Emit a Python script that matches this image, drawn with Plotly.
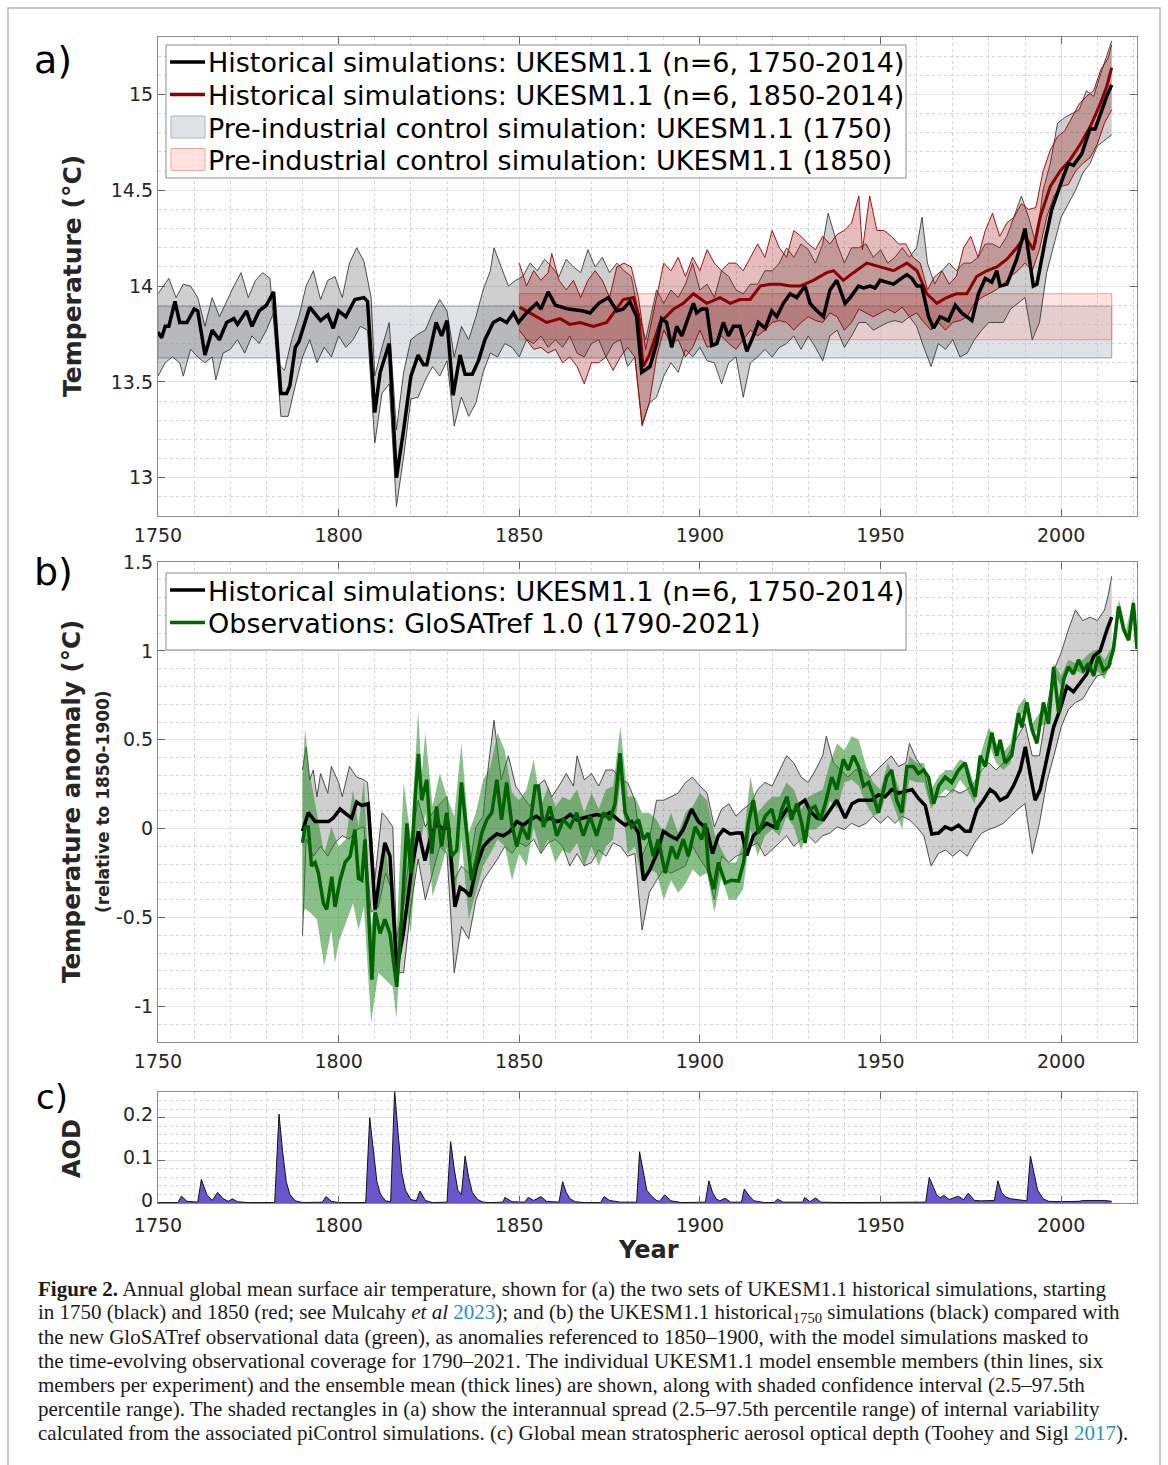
import plotly.graph_objects as go

# ---------------- DATA ----------------
# Panel a: historical (1750 start) ensemble mean, °C
a_black_mean = [(1750,13.76),(1751,13.73),(1752,13.79),(1753,13.79),(1754.7,13.92),(1756,13.81),(1758,13.81),(1760,13.88),(1761,13.87),(1763,13.64),(1765,13.77),(1767,13.72),(1769,13.81),(1771,13.83),(1772,13.80),(1774.5,13.87),(1776,13.79),(1778,13.87),(1780,13.90),(1782,13.97),(1784,13.44),(1785.6,13.44),(1786.5,13.48),(1788,13.68),(1789,13.71),(1792,13.89),(1795,13.82),(1797,13.85),(1798.5,13.78),(1800,13.87),(1802,13.84),(1804.5,13.93),(1807,13.94),(1808,13.92),(1810,13.34),(1811.5,13.55),(1814,13.70),(1816,13.0),(1818,13.25),(1820,13.53),(1822,13.64),(1823.5,13.59),(1824.4,13.59),(1827,13.81),(1828.5,13.74),(1830,13.82),(1831.7,13.43),(1833.6,13.64),(1835,13.54),(1837,13.54),(1838.7,13.61),(1840.5,13.72),(1842.8,13.81),(1844.7,13.83),(1846.5,13.81),(1848.4,13.86),(1849.8,13.81),(1852,13.86),(1854.8,13.91),(1856,13.88),(1858,13.97),(1860,13.90),(1863.6,13.88),(1867.7,13.87),(1869.6,13.86),(1872,13.91),(1874.7,13.94),(1877,13.87),(1878.8,13.88),(1880.6,13.92),(1882.5,13.84),(1883.9,13.55),(1886.2,13.58),(1888,13.70),(1889.4,13.83),(1890.8,13.81),(1892.2,13.68),(1893.6,13.79),(1895,13.74),(1896.4,13.82),(1898.2,13.91),(1899.1,13.86),(1900.5,13.88),(1901.9,13.88),(1903.3,13.69),(1904.7,13.70),(1906.5,13.81),(1907.9,13.74),(1909.3,13.79),(1911.1,13.79),(1913,13.66),(1914.8,13.74),(1916.2,13.81),(1918.1,13.78),(1919.9,13.87),(1921.3,13.84),(1923.1,13.91),(1925,13.96),(1926.8,13.94),(1929.1,14.0),(1930.5,13.91),(1931.9,13.88),(1934.2,13.84),(1936,13.98),(1937.9,14.03),(1940.2,13.91),(1941.6,13.94),(1943.9,14.0),(1945.3,13.99),(1947.1,14.0),(1948.5,13.99),(1949.9,14.03),(1951.7,14.02),(1953.6,14.01),(1955,14.03),(1957.3,14.06),(1958.7,14.04),(1960.1,14.0),(1961.4,14.0),(1963.3,13.84),(1964.7,13.78),(1966.5,13.84),(1968.8,13.82),(1970.7,13.90),(1972.5,13.86),(1975.3,13.82),(1977.1,13.96),(1979,14.04),(1980.8,14.02),(1982.2,14.08),(1983.1,14.0),(1985,14.01),(1987.7,14.14),(1990,14.30),(1992.3,14.0),(1993.3,14.01),(1995.6,14.24),(1997.4,14.40),(2000.2,14.55),(2002,14.64),(2003.4,14.63),(2005.7,14.69),(2008,14.82),(2009.4,14.82),(2011.3,14.92),(2012.6,14.99),(2014,15.05)]

a_black_hi = [(1750,13.96),(1753,14.04),(1755,13.94),(1757,14.01),(1759,14.0),(1761,13.94),(1763,13.79),(1765,13.94),(1767,13.84),(1769,13.92),(1771,14.0),(1773,14.07),(1775,13.94),(1777,14.03),(1779,14.07),(1781,14.04),(1783,13.6),(1785,13.56),(1787,13.72),(1789,13.84),(1791,14.0),(1793,14.08),(1795,13.93),(1797,14.03),(1799,14.05),(1801,13.94),(1803,14.12),(1805,14.2),(1807,14.13),(1809,13.94),(1810,13.53),(1812,13.68),(1814,13.81),(1816,13.25),(1818,13.55),(1820,13.72),(1822,13.75),(1824,13.77),(1826,13.86),(1828,13.93),(1830,13.87),(1832,13.63),(1834,13.79),(1836,13.72),(1838,13.84),(1840,13.98),(1842,14.08),(1843,14.20),(1845,14.1),(1847,14.0),(1849,14.03),(1851,14.05),(1853,14.12),(1855,14.08),(1857,14.14),(1859,14.1),(1861,14.05),(1863,14.14),(1865,14.1),(1867,14.07),(1869,14.19),(1871,14.1),(1873,14.15),(1875,14.07),(1877,14.12),(1879,14.08),(1881,14.05),(1883,13.86),(1885,13.72),(1888,13.98),(1890,13.91),(1892,13.98),(1894,13.94),(1896,14.01),(1898,14.12),(1900,13.98),(1902,14.01),(1904,13.94),(1906,14.08),(1908,14.05),(1910,13.98),(1912,13.96),(1914,14.01),(1916,14.01),(1918,14.08),(1920,14.08),(1922,14.12),(1924,14.2),(1926,14.15),(1928,14.22),(1930,14.19),(1932,14.12),(1934,14.22),(1935.5,14.38),(1938,14.22),(1940,14.12),(1942,14.2),(1944,14.2),(1946,14.22),(1948,14.15),(1950,14.19),(1952,14.12),(1954,14.15),(1956,14.2),(1958,14.15),(1960,14.2),(1961.5,14.36),(1963,14.12),(1965,14.01),(1967,14.08),(1969,14.12),(1971,14.08),(1973,14.12),(1975,14.12),(1977,14.15),(1979,14.22),(1981,14.22),(1983,14.2),(1985,14.26),(1987,14.36),(1989,14.47),(1991,14.36),(1993,14.22),(1995,14.5),(1997,14.64),(1999,14.85),(2001,14.88),(2003,14.9),(2005,14.92),(2007,15.02),(2009,14.99),(2011,15.11),(2013,15.23),(2014,15.28)]

a_black_lo = [(1750,13.53),(1752,13.6),(1754,13.63),(1756,13.6),(1757,13.53),(1759,13.67),(1761,13.63),(1763,13.6),(1765,13.63),(1766,13.51),(1768,13.65),(1770,13.67),(1772,13.72),(1774,13.65),(1776,13.74),(1778,13.7),(1780,13.77),(1782,13.86),(1784,13.32),(1786,13.32),(1788,13.48),(1790,13.63),(1792,13.72),(1794,13.6),(1796,13.68),(1798,13.63),(1800,13.74),(1802,13.68),(1804,13.72),(1806,13.79),(1808,13.77),(1810,13.18),(1812,13.44),(1814,13.49),(1816,12.85),(1818,13.11),(1820,13.41),(1822,13.42),(1824,13.51),(1826,13.58),(1828,13.53),(1830,13.61),(1832,13.27),(1834,13.42),(1836,13.32),(1838,13.39),(1840,13.55),(1842,13.65),(1844,13.63),(1846,13.70),(1848,13.68),(1850,13.63),(1852,13.72),(1854,13.70),(1856,13.74),(1858,13.68),(1860,13.72),(1862,13.68),(1864,13.74),(1866,13.65),(1868,13.63),(1870,13.70),(1872,13.72),(1874,13.63),(1876,13.70),(1878,13.72),(1880,13.58),(1882,13.63),(1884,13.28),(1886,13.39),(1888,13.42),(1890,13.53),(1892,13.6),(1894,13.55),(1896,13.67),(1898,13.63),(1900,13.68),(1902,13.61),(1904,13.6),(1906,13.49),(1908,13.6),(1910,13.63),(1912,13.42),(1914,13.6),(1916,13.63),(1918,13.67),(1920,13.63),(1922,13.68),(1924,13.70),(1926,13.74),(1928,13.67),(1930,13.74),(1932,13.68),(1934,13.61),(1936,13.74),(1938,13.77),(1940,13.68),(1942,13.74),(1944,13.81),(1946,13.81),(1948,13.77),(1950,13.79),(1952,13.81),(1954,13.82),(1956,13.81),(1958,13.84),(1960,13.79),(1962,13.68),(1964,13.58),(1966,13.70),(1968,13.67),(1970,13.72),(1972,13.63),(1974,13.65),(1976,13.72),(1978,13.77),(1980,13.81),(1982,13.81),(1984,13.81),(1986,13.88),(1988,13.91),(1990,13.94),(1992,13.72),(1994,13.81),(1996,14.07),(1998,14.22),(2000,14.36),(2002,14.43),(2004,14.5),(2006,14.59),(2008,14.64),(2010,14.73),(2012,14.76),(2014,14.79)]

# Panel a: historical (1850 start) ensemble mean and member spread, °C
a_red_mean = [(1850.1,13.89),(1853.9,13.85),(1857.6,13.81),(1861.3,13.83),(1864,13.80),(1866.8,13.81),(1870.5,13.79),(1874.2,13.81),(1876.5,13.87),(1878.8,13.93),(1881.6,13.94),(1883,13.85),(1884.3,13.58),(1886,13.64),(1889,13.81),(1892.7,13.88),(1895.4,13.91),(1898.2,13.96),(1901.9,13.91),(1905.6,13.94),(1908.4,13.91),(1911.1,13.93),(1913.9,13.93),(1916.7,14.0),(1919.4,14.01),(1922.2,14.01),(1925,14.0),(1927.7,14.0),(1931.4,14.03),(1935.1,14.07),(1937,14.08),(1939.7,14.03),(1942.5,14.07),(1946.2,14.12),(1949.9,14.10),(1953.6,14.08),(1957.3,14.12),(1960.1,14.08),(1962.8,13.96),(1965.6,13.91),(1968.3,13.94),(1971,13.96),(1973.9,13.96),(1976.6,14.05),(1979.4,14.08),(1982.2,14.10),(1985,14.14),(1987.7,14.20),(1990,14.26),(1992.3,14.19),(1994.2,14.36),(1997,14.52),(1999.7,14.60),(2002.5,14.66),(2005.3,14.74),(2008,14.83),(2010.8,14.95),(2012.6,15.04),(2014,15.14)]

a_red_hi = [(1850,14.12),(1852,14.0),(1854,14.08),(1856,14.03),(1858,14.07),(1859,14.17),(1861,14.03),(1863,13.98),(1865,14.03),(1867,13.94),(1869,14.03),(1871,14.08),(1873,14.03),(1875,13.94),(1877,14.1),(1879,14.12),(1881,14.1),(1883,13.94),(1885,13.67),(1888,13.94),(1890,14.12),(1892,14.08),(1894,14.15),(1896,14.05),(1898,14.15),(1900,14.08),(1902,14.19),(1904,14.12),(1906,14.08),(1908,14.12),(1910,14.12),(1912,14.08),(1914,14.15),(1916,14.22),(1918,14.15),(1920,14.29),(1922,14.2),(1924,14.15),(1926,14.29),(1928,14.26),(1930,14.22),(1932,14.19),(1934,14.26),(1936,14.22),(1938,14.27),(1940,14.29),(1942,14.33),(1944,14.47),(1945,14.19),(1947,14.47),(1949,14.29),(1951,14.29),(1953,14.26),(1955,14.22),(1957,14.22),(1959,14.15),(1961,14.12),(1963,13.98),(1965,14.05),(1967,14.08),(1969,14.01),(1971,14.05),(1973,14.2),(1975,14.26),(1977,14.15),(1979,14.29),(1981,14.38),(1983,14.26),(1985,14.33),(1987,14.36),(1989,14.43),(1991,14.4),(1993,14.41),(1995,14.6),(1997,14.71),(1999,14.78),(2001,14.81),(2003,14.88),(2005,14.95),(2007,14.99),(2009,15.02),(2011,15.13),(2013,15.19),(2014,15.26)]

a_red_lo = [(1850,13.77),(1852,13.72),(1854,13.67),(1856,13.68),(1858,13.65),(1860,13.67),(1862,13.6),(1864,13.63),(1866,13.58),(1868,13.49),(1870,13.6),(1872,13.6),(1874,13.63),(1876,13.56),(1878,13.63),(1880,13.68),(1882,13.63),(1884,13.27),(1886,13.39),(1888,13.63),(1890,13.77),(1892,13.70),(1894,13.72),(1896,13.63),(1898,13.68),(1900,13.77),(1902,13.68),(1904,13.70),(1906,13.74),(1908,13.70),(1910,13.67),(1912,13.72),(1914,13.77),(1916,13.74),(1918,13.77),(1920,13.81),(1922,13.82),(1924,13.81),(1926,13.77),(1928,13.81),(1930,13.84),(1932,13.82),(1934,13.81),(1936,13.86),(1938,13.84),(1940,13.77),(1942,13.81),(1944,13.88),(1946,13.86),(1948,13.84),(1950,13.86),(1952,13.88),(1954,13.86),(1956,13.89),(1958,13.84),(1960,13.86),(1962,13.81),(1964,13.77),(1966,13.81),(1968,13.77),(1970,13.81),(1972,13.82),(1974,13.84),(1976,13.91),(1978,13.94),(1980,13.96),(1982,13.98),(1984,14.01),(1986,14.05),(1988,14.08),(1990,14.12),(1992,14.08),(1994,14.19),(1996,14.36),(1998,14.47),(2000,14.52),(2002,14.53),(2004,14.6),(2006,14.64),(2008,14.67),(2010,14.74),(2012,14.85),(2014,14.92)]

# piControl 2.5-97.5th percentile ranges (start year, end year, low, high)
pi_1750 = (1750, 2014, 13.625, 13.895)
pi_1850 = (1850, 2014, 13.72, 13.96)

# Panel b: anomalies relative to 1850-1900, °C
b_black_mean = [(1790,-0.015),(1791.6,0.09),(1793.5,0.04),(1795.3,0.04),(1797.2,0.04),(1798.5,0.06),(1800.4,0.11),(1802.2,0.08),(1803.6,0.06),(1805,0.15),(1806.4,0.13),(1808.2,0.14),(1810.1,-0.455),(1811.5,-0.25),(1812.8,-0.08),(1814.2,-0.155),(1816.1,-0.79),(1817.9,-0.59),(1820.2,-0.23),(1822.1,-0.015),(1823.9,-0.18),(1825.3,-0.06),(1827.1,0.03),(1829,-0.005),(1830.4,0.01),(1832.2,-0.44),(1833.6,-0.33),(1835,-0.35),(1836.4,-0.38),(1838.2,-0.21),(1840.1,-0.10),(1841.9,-0.06),(1843.8,-0.03),(1845.6,-0.04),(1847.5,-0.015),(1849.3,0.04),(1851.1,0.02),(1853,0.05),(1854.8,0.07),(1856.7,0.04),(1858.5,0.06),(1860.4,0.04),(1862.2,0.05),(1864.1,0.08),(1865.9,0.05),(1867.7,0.06),(1869.6,0.07),(1871.4,0.08),(1873.3,0.07),(1875.1,0.09),(1877.4,0.05),(1879.3,0.02),(1881.1,0.04),(1883,-0.025),(1884.4,-0.29),(1886.2,-0.23),(1888.1,-0.14),(1889.9,-0.015),(1891.7,-0.04),(1893.6,-0.06),(1895.4,-0.005),(1897.7,0.11),(1899.6,0.04),(1901.9,0.0),(1903.5,-0.14),(1905.1,-0.04),(1906.5,-0.005),(1908.4,-0.03),(1910.2,-0.025),(1911.6,-0.025),(1913,-0.15),(1914.8,-0.04),(1916.7,-0.005),(1918.5,0.03),(1920.4,0.01),(1922.2,0.05),(1924.1,0.11),(1925.9,0.09),(1927.7,0.14),(1929.1,0.16),(1930.5,0.10),(1932.4,0.06),(1934.2,0.05),(1936.1,0.11),(1937.9,0.16),(1940.2,0.06),(1942.1,0.14),(1943.9,0.16),(1945.7,0.16),(1947.6,0.16),(1949.4,0.19),(1951.3,0.18),(1953.1,0.22),(1955,0.20),(1956.8,0.21),(1958.7,0.22),(1960.5,0.17),(1962.4,0.13),(1964.2,-0.03),(1966.1,-0.025),(1967.9,0.01),(1969.7,-0.005),(1971.6,0.02),(1973.4,-0.015),(1974.8,-0.015),(1976.7,0.11),(1978.5,0.16),(1980.3,0.22),(1981.7,0.20),(1983.1,0.16),(1985,0.18),(1986.8,0.24),(1988.7,0.33),(1990.1,0.46),(1991.4,0.31),(1992.8,0.16),(1994.2,0.22),(1996.1,0.41),(1997.9,0.57),(1999.7,0.67),(2001.6,0.80),(2003.4,0.77),(2005.3,0.82),(2007.1,0.87),(2009,0.97),(2010.8,1.0),(2012.7,1.12),(2014,1.19)]

b_black_hi = [(1790,0.33),(1791,0.46),(1792,0.275),(1793,0.33),(1794,0.18),(1795,0.31),(1797,0.20),(1798,0.35),(1800,0.26),(1801,0.18),(1803,0.35),(1805,0.29),(1807,0.275),(1808,0.26),(1810,-0.29),(1812,0.09),(1813,0.07),(1815,0.01),(1816,-0.62),(1818,-0.44),(1820,-0.06),(1822,0.16),(1824,0.01),(1826,0.09),(1828,0.14),(1830,0.18),(1832,-0.29),(1834,-0.21),(1836,-0.25),(1838,0.01),(1840,0.07),(1841,0.275),(1843,0.61),(1845,0.275),(1847,0.41),(1849,0.24),(1851,0.18),(1853,0.125),(1855,0.24),(1857,0.275),(1859,0.18),(1861,0.24),(1863,0.31),(1865,0.24),(1866,0.41),(1868,0.275),(1870,0.31),(1872,0.24),(1874,0.33),(1876,0.33),(1878,0.275),(1880,0.26),(1882,0.16),(1884,-0.155),(1886,-0.06),(1888,0.16),(1890,0.16),(1892,0.18),(1894,0.20),(1896,0.26),(1898,0.29),(1900,0.24),(1902,0.20),(1904,0.01),(1906,0.11),(1908,0.14),(1910,0.07),(1912,0.11),(1914,0.14),(1916,0.22),(1918,0.26),(1920,0.24),(1922,0.33),(1924,0.41),(1926,0.37),(1928,0.29),(1930,0.26),(1932,0.33),(1934,0.41),(1935,0.52),(1937,0.37),(1939,0.33),(1941,0.29),(1943,0.33),(1945,0.33),(1947,0.29),(1949,0.33),(1951,0.37),(1953,0.41),(1955,0.35),(1957,0.37),(1958,0.48),(1960,0.39),(1962,0.33),(1964,0.14),(1966,0.18),(1968,0.18),(1970,0.22),(1972,0.20),(1974,0.22),(1976,0.26),(1978,0.33),(1980,0.37),(1982,0.33),(1984,0.37),(1986,0.44),(1988,0.52),(1990,0.59),(1992,0.41),(1994,0.41),(1996,0.67),(1998,0.89),(2000,0.99),(2002,1.12),(2004,1.23),(2006,1.17),(2008,1.19),(2010,1.17),(2012,1.23),(2013,1.31),(2014,1.42)]

b_black_lo = [(1790,-0.60),(1791,-0.06),(1793,-0.155),(1795,-0.10),(1797,-0.155),(1799,-0.08),(1801,-0.04),(1803,-0.06),(1805,-0.005),(1807,0.01),(1809,-0.47),(1811,-0.44),(1813,-0.25),(1815,-0.36),(1816,-0.81),(1818,-0.81),(1820,-0.44),(1822,-0.17),(1824,-0.40),(1826,-0.25),(1828,-0.10),(1830,-0.14),(1832,-0.81),(1834,-0.55),(1836,-0.62),(1838,-0.40),(1840,-0.29),(1842,-0.23),(1844,-0.17),(1846,-0.10),(1848,-0.14),(1850,-0.08),(1852,-0.10),(1854,-0.06),(1856,-0.14),(1858,-0.08),(1860,-0.06),(1862,-0.10),(1864,-0.21),(1866,-0.14),(1868,-0.21),(1870,-0.19),(1872,-0.12),(1874,-0.155),(1876,-0.08),(1878,-0.10),(1880,-0.155),(1882,-0.14),(1884,-0.57),(1886,-0.36),(1888,-0.29),(1890,-0.23),(1892,-0.25),(1894,-0.23),(1896,-0.21),(1898,-0.10),(1900,-0.17),(1902,-0.23),(1904,-0.40),(1906,-0.155),(1908,-0.19),(1910,-0.155),(1912,-0.14),(1914,-0.10),(1916,-0.08),(1918,-0.155),(1920,-0.12),(1922,-0.08),(1924,-0.04),(1926,-0.10),(1928,-0.06),(1930,-0.04),(1932,-0.08),(1934,-0.04),(1936,-0.025),(1938,0.01),(1940,-0.005),(1942,0.03),(1944,0.01),(1946,0.03),(1948,0.07),(1950,0.03),(1952,0.07),(1954,0.03),(1956,0.07),(1958,0.05),(1960,0.01),(1962,-0.04),(1964,-0.21),(1966,-0.14),(1968,-0.12),(1970,-0.155),(1972,-0.12),(1974,-0.155),(1976,-0.08),(1978,-0.025),(1980,-0.005),(1982,0.01),(1984,0.03),(1986,0.07),(1988,0.11),(1990,0.14),(1992,-0.14),(1994,0.03),(1996,0.26),(1998,0.41),(2000,0.57),(2002,0.67),(2004,0.71),(2006,0.73),(2008,0.80),(2010,0.86),(2012,0.87),(2014,0.93)]

b_green_mean = [(1790,-0.08),(1790.7,0.01),(1791.6,0.01),(1792.5,-0.21),(1793.5,-0.19),(1794.4,-0.25),(1795.8,-0.42),(1796.7,-0.455),(1798.1,-0.27),(1799,-0.44),(1800.4,-0.29),(1801.8,-0.19),(1803.2,-0.155),(1804.5,-0.005),(1805.5,-0.28),(1806.4,-0.29),(1807.3,-0.06),(1809.2,-0.85),(1810.1,-0.47),(1811.5,-0.59),(1812.8,-0.51),(1814.2,-0.59),(1816.1,-0.89),(1817.5,-0.49),(1818.9,0.03),(1820,-0.25),(1821.2,0.18),(1822.1,0.42),(1823,0.16),(1824.4,0.275),(1825.8,-0.14),(1827.1,0.125),(1828.5,-0.10),(1829.9,0.09),(1831.3,-0.155),(1832.7,-0.12),(1834,0.26),(1835.5,-0.04),(1836.8,-0.29),(1838.2,-0.17),(1839.6,-0.025),(1841,0.05),(1842.4,0.09),(1843.8,0.275),(1845.1,0.05),(1846.5,0.26),(1847.9,0.03),(1849.3,-0.10),(1850.7,0.01),(1852.5,-0.06),(1854.4,0.24),(1855.3,0.24),(1856.7,0.01),(1858.5,0.125),(1860.4,-0.04),(1862.2,0.05),(1864.1,0.01),(1865.9,0.09),(1867.7,-0.04),(1869.6,0.07),(1871.4,-0.04),(1873.3,0.09),(1875.1,0.05),(1876.5,0.14),(1877.9,0.425),(1879.3,0.09),(1881.1,0.01),(1883,0.05),(1884.4,-0.06),(1885.7,-0.025),(1887.1,-0.155),(1888.5,-0.06),(1890.4,-0.25),(1892.2,-0.10),(1893.6,-0.17),(1895.4,-0.06),(1896.8,-0.155),(1898.7,0.01),(1900.5,-0.06),(1901.5,0.03),(1902.4,-0.23),(1903.8,-0.34),(1905.1,-0.19),(1907,-0.305),(1908.8,-0.29),(1910.7,-0.295),(1912.1,-0.19),(1913.4,0.03),(1914.8,0.16),(1916.2,-0.025),(1918.1,0.07),(1919.9,0.11),(1921.3,-0.005),(1922.7,0.11),(1924.1,0.18),(1925.4,0.05),(1926.8,0.14),(1928.2,0.03),(1929.1,-0.08),(1930.5,0.11),(1931.9,0.125),(1933.3,0.05),(1934.7,0.14),(1936.5,0.29),(1937.9,0.22),(1939.7,0.39),(1941.1,0.33),(1942.5,0.41),(1943.9,0.35),(1945.3,0.24),(1946.7,0.26),(1948.1,0.18),(1949.4,0.09),(1950.4,0.18),(1951.7,0.29),(1953.1,0.33),(1954.5,0.16),(1955.9,0.09),(1957.3,0.35),(1959.1,0.35),(1960.5,0.31),(1961.9,0.33),(1963.3,0.29),(1964.7,0.14),(1966.1,0.24),(1967.9,0.29),(1969.7,0.26),(1971.6,0.33),(1973.4,0.37),(1974.8,0.26),(1976.2,0.18),(1977.6,0.41),(1979,0.35),(1980.8,0.54),(1982.2,0.41),(1983.1,0.50),(1984.5,0.37),(1986.3,0.41),(1988.2,0.65),(1989.1,0.57),(1990.5,0.71),(1991.9,0.56),(1993.3,0.48),(1995.1,0.71),(1996.5,0.59),(1997.9,0.91),(1999.3,0.65),(2000.7,0.84),(2002,0.91),(2003.4,0.87),(2004.8,0.95),(2006.2,0.89),(2007.6,0.93),(2009,0.86),(2010.3,0.97),(2011.7,0.89),(2013.1,0.91),(2014.5,1.01),(2015.9,1.25),(2017.3,1.12),(2018.7,1.06),(2020,1.27),(2021,1.01)]

# Observational uncertainty band: (year, low, high)
b_green_band = [(1790,-0.49,0.29),(1790.7,-0.45,0.56),(1792,-0.47,0.31),(1794,-0.51,0.09),(1796,-0.77,-0.14),(1798,-0.57,0.01),(1799,-0.755,-0.05),(1800,-0.64,-0.10),(1802,-0.53,-0.06),(1804,-0.42,0.22),(1805.5,-0.57,0.01),(1807,-0.44,0.275),(1809,-1.09,-0.55),(1811,-0.81,-0.25),(1813,-0.85,-0.10),(1815,-0.89,-0.44),(1816,-1.07,-0.62),(1818,-0.34,0.26),(1820,-0.59,-0.06),(1822,0.01,0.66),(1823,-0.05,0.31),(1824,0.09,0.54),(1826,-0.38,0.125),(1828,-0.25,0.31),(1830,-0.10,0.18),(1832,-0.44,0.07),(1834,-0.06,0.48),(1836,-0.51,-0.025),(1838,-0.36,0.09),(1840,-0.21,0.275),(1842,-0.14,0.35),(1844,-0.06,0.54),(1846,-0.10,0.44),(1848,-0.29,0.20),(1850,-0.14,0.16),(1852,-0.21,0.22),(1854,0.01,0.39),(1856,-0.14,0.125),(1858,-0.06,0.24),(1860,-0.19,0.125),(1862,-0.12,0.18),(1864,-0.14,0.16),(1866,-0.08,0.22),(1868,-0.21,0.09),(1870,-0.10,0.20),(1872,-0.21,0.11),(1874,-0.10,0.22),(1876,-0.06,0.24),(1878,0.26,0.575),(1880,-0.14,0.18),(1882,-0.10,0.18),(1884,-0.29,0.09),(1886,-0.23,0.09),(1888,-0.25,0.05),(1890,-0.40,-0.025),(1892,-0.29,0.09),(1894,-0.36,-0.025),(1896,-0.31,0.09),(1898,-0.23,0.125),(1900,-0.27,0.20),(1902,-0.25,0.16),(1904,-0.47,-0.025),(1906,-0.27,-0.12),(1908,-0.40,-0.19),(1910,-0.40,-0.19),(1912,-0.34,-0.08),(1914,-0.005,0.29),(1916,-0.155,0.09),(1918,-0.04,0.14),(1920,-0.005,0.18),(1922,-0.04,0.18),(1924,0.07,0.26),(1926,0.01,0.22),(1928,-0.12,0.11),(1930,-0.005,0.18),(1932,-0.005,0.20),(1934,0.03,0.22),(1936,0.16,0.37),(1938,0.11,0.48),(1940,0.26,0.44),(1942,0.275,0.52),(1944,0.24,0.50),(1946,0.14,0.35),(1948,0.07,0.26),(1950,0.09,0.22),(1952,0.22,0.37),(1954,0.11,0.29),(1956,-0.005,0.18),(1958,0.275,0.41),(1960,0.26,0.37),(1962,0.26,0.37),(1964,0.11,0.22),(1966,0.18,0.29),(1968,0.22,0.33),(1970,0.20,0.33),(1972,0.275,0.39),(1974,0.22,0.37),(1976,0.14,0.24),(1978,0.33,0.44),(1980,0.48,0.57),(1982,0.37,0.48),(1984,0.33,0.43),(1986,0.37,0.48),(1988,0.61,0.685),(1990,0.67,0.74),(1992,0.52,0.59),(1994,0.575,0.65),(1996,0.59,0.67),(1998,0.87,0.93),(2000,0.80,0.86),(2002,0.89,0.95),(2004,0.89,0.93),(2006,0.87,0.95),(2008,0.91,0.99),(2010,0.89,1.01),(2012,0.84,0.95),(2014,0.95,1.02),(2016,1.23,1.29),(2018,1.06,1.12),(2020,1.24,1.30),(2021,1.0,1.04)]

# Panel c: stratospheric aerosol optical depth
aod = [(1750,0.001),(1755.5,0.001),(1756.5,0.016),(1758,0.004),(1761,0.002),(1762,0.055),(1763.5,0.02),(1765,0.006),(1766.5,0.025),(1768,0.01),(1769.5,0.004),(1770.5,0.01),(1772,0.003),(1775,0.001),(1782.3,0.001),(1783.5,0.208),(1784.5,0.12),(1785.5,0.05),(1786.5,0.02),(1788,0.005),(1790,0.001),(1795.5,0.002),(1796.5,0.015),(1798,0.004),(1800,0.001),(1807.5,0.001),(1808.6,0.20),(1809.6,0.12),(1810.6,0.05),(1811.6,0.02),(1813,0.005),(1814.4,0.003),(1815.5,0.263),(1816.5,0.16),(1817.5,0.07),(1818.5,0.03),(1820,0.008),(1821.5,0.005),(1822.5,0.028),(1824,0.006),(1826,0.001),(1830,0.002),(1831,0.144),(1832,0.08),(1833,0.03),(1834,0.02),(1835,0.11),(1836,0.06),(1837,0.025),(1838.5,0.008),(1840,0.002),(1842,0.001),(1845.5,0.002),(1846,0.013),(1848,0.003),(1851.5,0.002),(1852.5,0.013),(1854,0.006),(1856,0.015),(1857.5,0.004),(1861,0.002),(1862,0.05),(1863,0.025),(1864,0.01),(1865.5,0.003),(1868,0.001),(1872.5,0.001),(1873.5,0.015),(1875,0.006),(1878,0.002),(1882.5,0.002),(1883.3,0.12),(1884.3,0.07),(1885.3,0.03),(1886.5,0.017),(1888,0.006),(1888.8,0.004),(1890.3,0.019),(1892,0.005),(1895,0.001),(1901.5,0.002),(1902.5,0.052),(1903.5,0.025),(1904.5,0.01),(1905.5,0.005),(1907,0.011),(1908.5,0.002),(1911.5,0.002),(1912.3,0.033),(1913.5,0.018),(1915,0.005),(1918,0.001),(1920.5,0.001),(1921.5,0.009),(1923,0.002),(1928.5,0.002),(1929,0.013),(1930.5,0.003),(1932,0.012),(1933.5,0.002),(1940,0.001),(1962.5,0.002),(1963.5,0.06),(1964.5,0.04),(1965.5,0.02),(1966.5,0.012),(1967.5,0.018),(1969,0.008),(1970.5,0.012),(1971.5,0.016),(1973,0.008),(1974.3,0.023),(1976,0.006),(1978,0.005),(1981.5,0.006),(1982.5,0.052),(1983.5,0.025),(1984.5,0.015),(1986,0.01),(1988,0.008),(1990.5,0.005),(1991.5,0.11),(1992.5,0.07),(1993.5,0.03),(1995,0.01),(1996.5,0.004),(2000,0.003),(2005,0.004),(2006,0.006),(2012,0.006),(2014,0.004)]

x_ticks = [1750, 1800, 1850, 1900, 1950, 2000]
a_yticks = [13, 13.5, 14, 14.5, 15]
b_yticks = [-1, -0.5, 0, 0.5, 1, 1.5]
b_yticktext = ["-1", "-0.5", "0", "0.5", "1", "1.5"]
c_yticks = [0, 0.1, 0.2]
c_yticktext = ["0", "0.1", "0.2"]

leg_black = "Historical simulations: UKESM1.1 (n=6, 1750-2014)"
leg_red = "Historical simulations: UKESM1.1 (n=6, 1850-2014)"
leg_pi1750 = "Pre-industrial control simulation: UKESM1.1 (1750)"
leg_pi1850 = "Pre-industrial control simulation: UKESM1.1 (1850)"
leg_obs = "Observations: GloSATref 1.0 (1790-2021)"

caption_lines = [
    "<b>Figure 2.</b> Annual global mean surface air temperature, shown for (a) the two sets of UKESM1.1 historical simulations, starting",
    "in 1750 (black) and 1850 (red; see Mulcahy <i>et al</i> <span style='color:#2b8fc7'>2023</span>); and (b) the UKESM1.1 historical<sub>1750</sub> simulations (black) compared with",
    "the new GloSATref observational data (green), as anomalies referenced to 1850–1900, with the model simulations masked to",
    "the time-evolving observational coverage for 1790–2021. The individual UKESM1.1 model ensemble members (thin lines, six",
    "members per experiment) and the ensemble mean (thick lines) are shown, along with shaded confidence interval (2.5–97.5th",
    "percentile range). The shaded rectangles in (a) show the interannual spread (2.5–97.5th percentile range) of internal variability",
    "calculated from the associated piControl simulations. (c) Global mean stratospheric aerosol optical depth (Toohey and Sigl <span style='color:#2b8fc7'>2017</span>).",
]

# ---------------- FIGURE ----------------
W, H = 1168, 1465
def px(x):
    return x / W
def py(y):
    return 1 - y / H

def xy(pairs):
    return [p[0] for p in pairs], [p[1] for p in pairs]

def band(hi, lo):
    hx, hy = xy(hi)
    lx, ly = xy(lo)
    return hx + lx[::-1], hy + ly[::-1]

BLACK_ENV_FILL = "rgba(70,70,70,0.26)"
BLACK_ENV_LINE = "rgba(50,50,50,0.85)"
RED_ENV_FILL = "rgba(160,0,0,0.26)"
RED_ENV_LINE = "rgba(150,0,0,0.9)"
PI1750_FILL, PI1750_LINE = "rgba(196,204,212,0.55)", "rgba(140,155,170,0.9)"
PI1850_FILL, PI1850_LINE = "rgba(250,140,130,0.25)", "rgba(240,120,110,0.7)"

fig = go.Figure()

# ---- panel a ----
def rect_trace(r, fillc, linec):
    x0, x1, lo, hi = r
    return go.Scatter(x=[x0, x1, x1, x0, x0], y=[lo, lo, hi, hi, lo], mode="lines",
                      fill="toself", fillcolor=fillc, line=dict(color=linec, width=1),
                      showlegend=False, xaxis="x", yaxis="y", hoverinfo="skip")

fig.add_trace(rect_trace(pi_1750, PI1750_FILL, PI1750_LINE))
fig.add_trace(rect_trace(pi_1850, PI1850_FILL, PI1850_LINE))

def envelope(hi, lo, fillc, linec, xa, ya):
    bx, byv = band(hi, lo)
    fig.add_trace(go.Scatter(x=bx, y=byv, fill="toself", fillcolor=fillc, line=dict(width=0),
                             mode="lines", showlegend=False, xaxis=xa, yaxis=ya))
    for env in (hi, lo):
        ex, ey = xy(env)
        fig.add_trace(go.Scatter(x=ex, y=ey, mode="lines", line=dict(color=linec, width=1),
                                 showlegend=False, xaxis=xa, yaxis=ya))

envelope(a_black_hi, a_black_lo, BLACK_ENV_FILL, BLACK_ENV_LINE, "x", "y")
envelope(a_red_hi, a_red_lo, RED_ENV_FILL, RED_ENV_LINE, "x", "y")

mx, my = xy(a_red_mean)
fig.add_trace(go.Scatter(x=mx, y=my, mode="lines", line=dict(color="#8b0000", width=3),
                         name=leg_red, showlegend=False, xaxis="x", yaxis="y"))
mx, my = xy(a_black_mean)
fig.add_trace(go.Scatter(x=mx, y=my, mode="lines", line=dict(color="#000000", width=3.5),
                         name=leg_black, showlegend=False, xaxis="x", yaxis="y"))

# ---- panel b ----
envelope(b_black_hi, b_black_lo, BLACK_ENV_FILL, BLACK_ENV_LINE, "x2", "y2")

gy = [b[0] for b in b_green_band]
glo = [b[1] for b in b_green_band]
ghi = [b[2] for b in b_green_band]
fig.add_trace(go.Scatter(x=gy + gy[::-1], y=ghi + glo[::-1], fill="toself",
                         fillcolor="rgba(40,140,40,0.55)", line=dict(width=0), mode="lines",
                         showlegend=False, xaxis="x2", yaxis="y2"))

mx, my = xy(b_black_mean)
fig.add_trace(go.Scatter(x=mx, y=my, mode="lines", line=dict(color="#000000", width=3.5),
                         name=leg_black, showlegend=False, xaxis="x2", yaxis="y2"))
mx, my = xy(b_green_mean)
fig.add_trace(go.Scatter(x=mx, y=my, mode="lines", line=dict(color="#006400", width=3.5),
                         name=leg_obs, showlegend=False, xaxis="x2", yaxis="y2"))

# ---- panel c ----
ax_, ay_ = xy(aod)
fig.add_trace(go.Scatter(x=ax_, y=ay_, mode="lines", fill="tozeroy", fillcolor="#6a55cc",
                         line=dict(color="#111111", width=1), showlegend=False,
                         xaxis="x3", yaxis="y3"))

# ---------------- LAYOUT ----------------
FONT = "DejaVu Sans"
tickfont = dict(family=FONT, size=19, color="#262626")
xdom = [px(158), px(1137)]

def xaxis_cfg(anchor, standoff=2):
    return dict(domain=xdom, range=[1750, 2021], anchor=anchor, tickvals=x_ticks,
                ticks="inside", ticklen=7, tickcolor="#666", mirror="ticks", showline=True,
                linecolor="#8a8a8a", linewidth=1.2, showgrid=True, gridcolor="#e3e3e3",
                gridwidth=1, zeroline=False, tickfont=tickfont, automargin=False,
                ticklabelstandoff=standoff,
                minor=dict(dtick=10, tick0=1750, showgrid=True, gridcolor="#d4d4d4",
                           griddash="dot", gridwidth=1))

def yaxis_cfg(anchor, dom, rng, tv, tt=None, minor_dt=0.1, shift=0):
    d = dict(domain=dom, range=rng, anchor=anchor, tickvals=tv, ticks="inside", ticklen=7,
             tickcolor="#666", mirror="ticks", showline=True, linecolor="#8a8a8a", linewidth=1.2,
             showgrid=True, gridcolor="#e3e3e3", gridwidth=1, zeroline=False, tickfont=tickfont,
             automargin=False, ticklabelshift=shift,
             minor=dict(dtick=minor_dt, tick0=0, showgrid=True, gridcolor="#d4d4d4",
                        griddash="dot", gridwidth=1))
    if tt is not None:
        d["ticktext"] = tt
    return d

annotations = []
shapes = [dict(type="rect", xref="paper", yref="paper", x0=px(8), x1=px(1160), y0=-0.02,
               y1=py(8), line=dict(color="#b5b5b5", width=1.5), fillcolor="rgba(0,0,0,0)",
               layer="below")]

def ann(text, x, y, size, bold=False, angle=0, xanchor="center", family=FONT, color="#262626"):
    annotations.append(dict(text=f"<b>{text}</b>" if bold else text, x=px(x), y=py(y),
                            xref="paper", yref="paper", xanchor=xanchor, yanchor="middle",
                            showarrow=False, textangle=angle,
                            font=dict(family=family, size=size, color=color)))

# manual legends drawn as boxes, samples and text
LEG_SIZE = 27
def legend_box(top, bottom, right, entries):
    shapes.append(dict(type="rect", xref="paper", yref="paper", x0=px(166), x1=px(right),
                       y0=py(bottom), y1=py(top), line=dict(color="#8a8a8a", width=1),
                       fillcolor="white", layer="above"))
    for i, (label, kind, col, lcol) in enumerate(entries):
        yc = top + 17 + 32.5 * i
        if kind == "line":
            shapes.append(dict(type="line", xref="paper", yref="paper", x0=px(170), x1=px(205),
                               y0=py(yc), y1=py(yc), line=dict(color=col, width=3.5),
                               layer="above"))
        else:
            shapes.append(dict(type="rect", xref="paper", yref="paper", x0=px(171), x1=px(205),
                               y0=py(yc + 11), y1=py(yc - 11), line=dict(color=lcol, width=1),
                               fillcolor=col, layer="above"))
        ann(label, 206, yc + 1, LEG_SIZE, xanchor="left", color="#000")

legend_box(45, 178, 906, [
    (leg_black, "line", "#000000", None),
    (leg_red, "line", "#8b0000", None),
    (leg_pi1750, "box", "#dfe3e7", "#a9b5c0"),
    (leg_pi1850, "box", "#fde2df", "#f2a6a0"),
])
legend_box(573, 650, 906, [
    (leg_black, "line", "#000000", None),
    (leg_obs, "line", "#006400", None),
])

ann("a)", 53, 60, 38, color="#000")
ann("b)", 53, 572, 38, color="#000")
ann("c)", 52, 1097, 34, color="#000")
ann("Temperature (°C)", 72, 276, 25, bold=True, angle=-90)
ann("Temperature anomaly (°C)", 72, 802, 24.5, bold=True, angle=-90)
ann("(relative to 1850-1900)", 103, 802, 17, bold=True, angle=-90)
ann("AOD", 72, 1149, 24, bold=True, angle=-90)
ann("Year", 648, 1250, 24, bold=True)
for i, line in enumerate(caption_lines):
    ann(line, 36, 1289 + 24 * i, 21, xanchor="left", family="Liberation Serif", color="#1a1a1a")

fig.update_layout(
    width=W, height=H, margin=dict(l=0, r=0, t=0, b=0, pad=0, autoexpand=False),
    paper_bgcolor="white", plot_bgcolor="white",
    xaxis=xaxis_cfg("y"), xaxis2=xaxis_cfg("y2"), xaxis3=xaxis_cfg("y3", 5),
    yaxis=yaxis_cfg("x", [py(516), py(37)], [12.8, 15.3], a_yticks),
    yaxis2=yaxis_cfg("x2", [py(1042), py(562)], [-1.2, 1.5], b_yticks, b_yticktext),
    yaxis3=yaxis_cfg("x3", [py(1203), py(1092)], [0, 0.26], c_yticks, c_yticktext, 0.02, -3),
    annotations=annotations,
    shapes=shapes,
    showlegend=False,
)

fig.write_html("out.html", config={"displayModeBar": False},
               post_script="document.body.style.margin='0';document.body.style.overflow='hidden';")
